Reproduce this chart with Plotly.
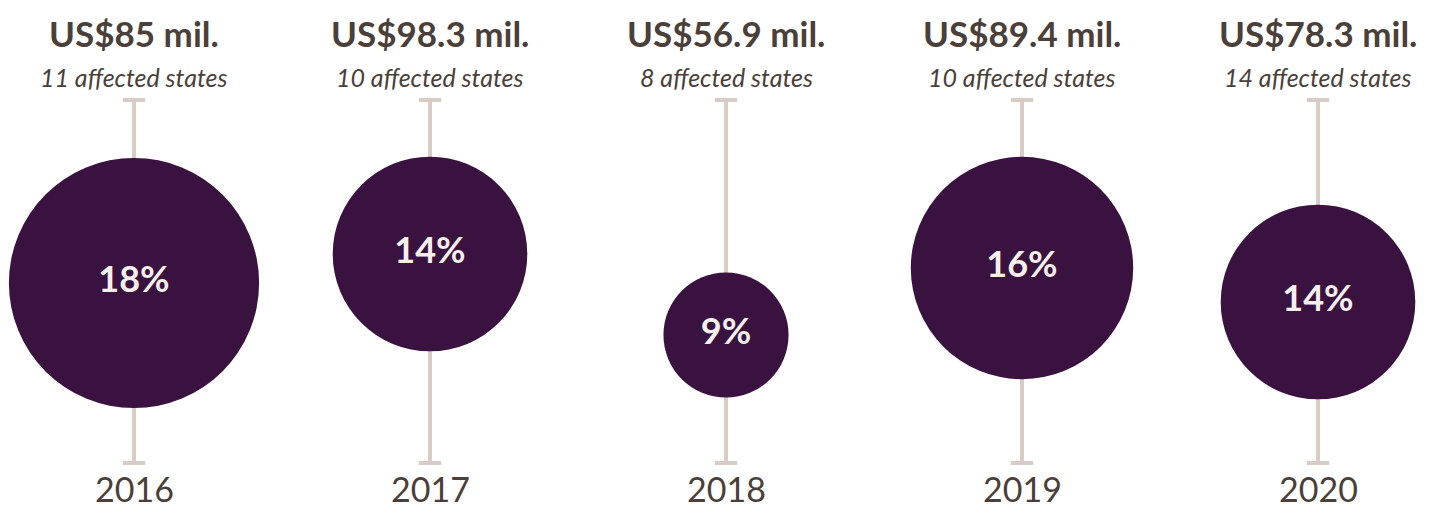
import plotly.graph_objects as go

years = ["2016", "2017", "2018", "2019", "2020"]
amounts = ["US$85 mil.", "US$98.3 mil.", "US$56.9 mil.", "US$89.4 mil.", "US$78.3 mil."]
states = [11, 10, 8, 10, 14]
shares = [18, 14, 9, 16, 14]
# vertical placement of each bubble along its stem (pixel-like scale, 0 = top)
bubble_y = [283, 254, 335, 268, 302]

STEM_TOP, STEM_BOTTOM = 100, 463
DARK = "#4b3f39"
PURPLE = "#3a1240"
STEM = "#d9cbc6"
FONT = "Lato, 'Noto Sans', sans-serif"

# page has an 8px body margin, so the figure is sized to fit inside the window
W, H, OFF = 1427, 505, 8

xs = list(range(len(years)))

fig = go.Figure()

# stems
sx, sy = [], []
for i in xs:
    sx += [i, i, None]
    sy += [STEM_TOP, STEM_BOTTOM, None]
fig.add_trace(go.Scatter(x=sx, y=sy, mode="lines", line=dict(color=STEM, width=4),
                         hoverinfo="skip", showlegend=False))
# caps
fig.add_trace(go.Scatter(x=xs + xs, y=[STEM_TOP] * 5 + [STEM_BOTTOM] * 5, mode="markers",
                         marker=dict(symbol="line-ew", size=16, line=dict(color=STEM, width=4)),
                         hoverinfo="skip", showlegend=False))
# bubbles
fig.add_trace(go.Scatter(
    x=xs, y=bubble_y, mode="markers+text",
    marker=dict(size=shares, sizemode="diameter", sizeref=1 / 13.9, color=PURPLE,
                line=dict(width=0), opacity=1),
    text=[f"<b>{s}%</b>" for s in shares], textposition="middle center",
    textfont=dict(family=FONT, size=36, color="#f6f1ec"),
    showlegend=False,
))

for i in xs:
    fig.add_annotation(x=i, y=33, text=f"<b>{amounts[i]}</b>", showarrow=False,
                       font=dict(family=FONT, size=35, color=DARK))
    fig.add_annotation(x=i, y=77, text=f"<i>{states[i]} affected states</i>", showarrow=False,
                       font=dict(family=FONT, size=25, color=DARK))
    fig.add_annotation(x=i, y=488, text=years[i], showarrow=False,
                       font=dict(family=FONT, size=34, color=DARK))

fig.update_xaxes(range=[-(134 - OFF) / 296, (W - (134 - OFF)) / 296], visible=False, fixedrange=True)
fig.update_yaxes(range=[OFF + H, OFF], visible=False, fixedrange=True)
fig.update_layout(width=W, height=H, margin=dict(l=0, r=0, t=0, b=0),
                  plot_bgcolor="white", paper_bgcolor="white")

fig.write_html("out.html")
